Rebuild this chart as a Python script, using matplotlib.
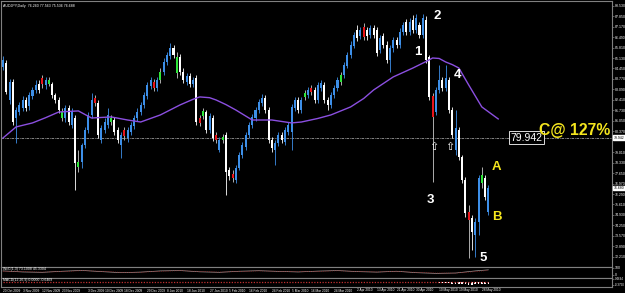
import numpy as np
import matplotlib.pyplot as plt

# AUDJPY daily candles, one entry per bar
opens = [84.55, 84.81, 82.40, 83.57, 81.23, 81.62, 81.88, 82.40, 82.01, 82.66,
         83.05, 83.44, 83.83, 83.38, 83.44, 83.44, 82.73, 82.40, 81.23, 81.23,
         81.88, 80.78, 81.23, 78.05, 78.37, 79.48, 80.45, 81.43, 82.53, 82.21,
         79.80, 80.45, 80.78, 81.23, 81.10, 80.45, 79.48, 80.45, 79.93, 80.32,
         80.71, 81.23, 81.62, 82.08, 82.66, 83.31, 83.57, 83.18, 83.70, 84.22,
         84.87, 85.26, 85.78, 84.16, 85.20, 84.22, 83.57, 83.96, 83.44, 83.83,
         81.23, 81.36, 81.62, 80.45, 81.23, 80.13, 79.15, 79.80, 80.13, 77.85,
         77.59, 77.20, 77.98, 78.83, 79.35, 80.13, 80.78, 81.23, 81.75, 82.21,
         82.53, 81.75, 79.80, 79.15, 79.61, 80.13, 79.67, 80.32, 80.32, 81.88,
         82.40, 81.75, 82.60, 82.73, 83.18, 83.05, 82.40, 83.18, 83.38, 82.40,
         82.08, 82.73, 83.18, 83.57, 84.03, 84.61, 85.33, 85.91, 86.95, 86.56,
         87.15, 86.95, 86.63, 87.08, 86.95, 85.65, 86.56, 85.98, 85.00, 85.78,
         86.30, 85.98, 86.82, 87.47, 86.82, 87.60, 86.95, 87.28, 86.63, 87.60,
         85.20, 82.66, 81.62, 83.05, 83.70, 83.18, 83.70, 81.75, 79.15, 80.45,
         78.70, 77.20, 75.12, 74.73, 73.63, 74.47, 77.01, 77.33, 75.12]
highs = [85.26, 85.00, 83.77, 83.77, 81.95, 82.27, 82.66, 82.60, 82.92, 83.25,
         83.70, 83.70, 84.03, 83.90, 83.90, 83.57, 82.86, 82.60, 81.88, 82.08,
         82.08, 81.88, 81.43, 79.15, 79.61, 80.65, 81.62, 82.86, 82.73, 82.40,
         80.78, 81.23, 81.88, 81.43, 81.30, 80.65, 80.32, 80.65, 80.65, 80.97,
         81.43, 81.88, 82.27, 82.92, 83.57, 83.90, 83.77, 83.90, 84.48, 85.13,
         85.52, 86.11, 85.98, 85.52, 85.39, 84.48, 84.16, 84.16, 83.90, 84.03,
         81.43, 81.88, 81.75, 81.56, 81.43, 80.32, 80.00, 80.19, 80.32, 78.05,
         77.85, 78.18, 79.02, 79.67, 80.32, 80.97, 81.49, 81.95, 82.47, 82.79,
         82.73, 81.95, 80.00, 79.80, 80.32, 80.32, 80.65, 80.97, 82.14, 82.60,
         82.60, 82.60, 83.05, 83.25, 83.38, 83.25, 83.57, 83.70, 83.57, 82.60,
         82.92, 83.38, 83.90, 84.22, 84.87, 85.52, 86.24, 86.82, 87.28, 87.15,
         87.41, 87.15, 87.28, 87.28, 87.15, 86.63, 86.76, 86.24, 85.98, 86.50,
         86.50, 87.08, 87.47, 87.67, 87.73, 87.93, 87.99, 87.47, 87.99, 87.86,
         85.33, 82.86, 83.25, 84.68, 83.90, 84.68, 83.90, 81.95, 81.75, 80.65,
         78.83, 77.40, 75.58, 74.93, 74.73, 77.53, 78.05, 77.53, 76.88]
lows = [84.35, 82.79, 82.14, 80.78, 79.61, 81.43, 81.69, 81.69, 81.75, 82.47,
        82.86, 82.86, 83.18, 83.12, 83.31, 82.53, 82.21, 81.56, 81.04, 80.97,
        80.78, 80.58, 76.55, 77.72, 77.98, 79.28, 80.26, 81.23, 82.01, 79.93,
        79.61, 80.26, 80.58, 80.78, 80.13, 79.61, 78.63, 79.80, 79.67, 80.13,
        80.52, 81.04, 81.43, 81.88, 82.47, 83.12, 82.99, 82.99, 83.51, 84.03,
        84.68, 85.07, 85.13, 83.83, 84.03, 83.51, 83.38, 83.25, 83.25, 80.78,
        80.71, 81.17, 80.26, 80.26, 79.74, 79.61, 79.02, 79.61, 76.23, 77.20,
        77.07, 77.01, 77.85, 78.63, 79.15, 79.93, 80.58, 81.04, 81.56, 82.01,
        81.56, 79.61, 79.02, 78.18, 79.41, 79.61, 79.48, 80.13, 79.15, 81.69,
        81.56, 81.56, 82.40, 82.53, 82.73, 82.21, 82.21, 82.99, 82.21, 81.75,
        81.88, 82.53, 82.99, 83.38, 83.83, 84.48, 85.13, 85.78, 86.24, 86.37,
        86.30, 86.30, 86.43, 86.43, 85.26, 85.46, 85.78, 84.81, 84.22, 85.52,
        85.78, 85.78, 86.63, 86.63, 86.63, 86.76, 86.76, 86.43, 86.43, 84.81,
        82.40, 77.07, 81.43, 82.86, 82.99, 82.99, 81.56, 79.93, 78.83, 78.50,
        77.01, 74.80, 72.13, 72.65, 72.20, 73.63, 76.68, 75.90, 74.93]
closes = [85.00, 82.92, 83.57, 80.97, 81.75, 82.08, 82.40, 81.88, 82.73, 83.05,
          83.38, 83.05, 83.44, 83.70, 83.70, 82.73, 82.40, 81.75, 81.62, 81.88,
          80.97, 81.62, 78.31, 78.37, 79.48, 80.45, 81.43, 82.40, 82.21, 80.13,
          80.58, 80.97, 81.43, 80.97, 80.32, 79.80, 80.13, 80.06, 80.45, 80.78,
          81.23, 81.62, 82.08, 82.73, 83.38, 83.70, 83.18, 83.70, 84.22, 84.87,
          85.33, 85.78, 85.33, 85.20, 84.22, 83.70, 83.96, 83.44, 83.70, 80.97,
          80.91, 81.69, 80.45, 81.36, 79.93, 79.80, 79.80, 80.00, 77.72, 77.46,
          77.33, 77.98, 78.83, 79.48, 80.13, 80.78, 81.30, 81.75, 82.27, 82.53,
          81.75, 79.80, 79.28, 79.61, 80.13, 79.80, 80.45, 80.78, 81.95, 82.40,
          81.75, 82.40, 82.86, 83.05, 82.92, 82.40, 83.38, 83.51, 82.40, 82.08,
          82.73, 83.18, 83.70, 84.03, 84.68, 85.33, 85.98, 86.63, 86.43, 86.95,
          86.50, 86.56, 87.08, 86.63, 85.46, 86.43, 85.98, 85.00, 85.78, 86.30,
          85.98, 86.82, 87.28, 86.82, 87.47, 86.95, 87.73, 86.63, 87.73, 85.00,
          82.60, 81.30, 83.05, 83.70, 83.18, 83.83, 81.75, 80.13, 80.58, 78.70,
          77.20, 75.06, 74.60, 73.82, 74.47, 77.33, 77.53, 76.10, 76.68]
red_bars = [12, 28, 37, 46, 60, 65, 70, 94, 110, 131, 142]
green_bars = [14, 18, 23, 33, 48, 53, 61, 67, 92, 103, 146]

# shifted moving average (purple), read at a few bars
ma_bars = [0, 4, 9, 13, 17, 23, 27, 33, 38, 42, 48, 54, 58, 60, 63, 65, 68,
           71, 76, 82, 88, 91, 96, 100, 106, 110, 113, 119, 125, 129, 131,
           133, 135, 137, 139, 142, 146, 151]
ma_values = [79.93, 80.65, 80.91, 81.25, 81.62, 81.69, 81.23, 81.30, 81.10,
             80.97, 81.43, 82.08, 82.45, 82.60, 82.55, 82.40, 82.10, 81.75,
             81.10, 81.10, 80.91, 80.97, 81.20, 81.43, 81.95, 82.50, 83.05,
             83.90, 84.48, 84.90, 85.13, 85.10, 84.87, 84.70, 84.48, 83.38,
             81.95, 81.17]

level = 79.942
price_ticks = [88.53, 87.85, 87.17, 86.49, 85.81, 85.13, 84.45, 83.77, 83.09,
               82.41, 81.73, 81.05, 80.37, 79.01, 78.33, 77.65, 76.97,
               76.29, 75.61, 74.93, 74.25, 73.57, 72.89, 72.21]

date_ticks = [0, 6, 12, 18, 26, 31, 37, 44, 50, 56, 63, 69, 75, 82, 88, 94,
              101, 108, 114, 120, 126, 133, 139, 146]
date_labels = ['20 Oct 2009', '3 Nov 2009', '12 Nov 2009', '23 Nov 2009',
               '3 Dec 2009', '10 Dec 2009', '18 Dec 2009', '29 Dec 2009',
               '8 Jan 2010', '18 Jan 2010', '27 Jan 2010', '5 Feb 2010',
               '16 Feb 2010', '24 Feb 2010', '5 Mar 2010', '16 Mar 2010',
               '24 Mar 2010', '2 Apr 2010', '13 Apr 2010', '21 Apr 2010',
               '30 Apr 2010', '10 May 2010', '19 May 2010', '28 May 2010']

# oscillator sub window
osc_bars = [0, 6, 12, 18, 24, 30, 36, 42, 48, 54, 60, 66, 72, 78, 84, 90, 96,
            102, 108, 114, 120, 126, 132, 138, 144, 148]
osc_main = [55, 40, 35, 50, 62, 45, 30, 38, 55, 60, 42, 35, 50, 58, 48, 40,
            52, 60, 45, 38, 50, 30, 20, 25, 55, 70]
osc_signal = [50, 45, 38, 45, 58, 50, 35, 36, 50, 58, 48, 38, 46, 55, 50, 43,
              48, 57, 48, 40, 47, 35, 25, 24, 45, 62]

# histogram sub window, last bars only
hist_bars = [133, 134, 135, 136, 137, 138, 139, 140, 141, 142, 143, 144, 145,
             146, 147, 148]
hist_values = [-0.10, -0.12, -0.15, -0.18, -0.22, -0.26, -0.30, -0.33, -0.36,
               -0.37, -0.37, -0.36, -0.35, -0.33, -0.31, -0.30]

W, H = 625, 293
BLUE = '#3d8fe8'
GRID = '#808080'
TICK_FS = 2.5


def rect(x0, y0, x1, y1):
    return [x0 / W, 1 - y1 / H, (x1 - x0) / W, (y1 - y0) / H]


def style(ax, fs=TICK_FS):
    ax.set_facecolor('black')
    for s in ax.spines.values():
        s.set_color(GRID)
        s.set_linewidth(0.8)
    ax.set_xticks([])
    ax.yaxis.tick_right()
    ax.tick_params(axis='y', colors=GRID, labelcolor='white', labelsize=fs,
                   length=1.5, width=0.5, pad=0.6)


plt.rcParams['font.family'] = ['Liberation Sans', 'DejaVu Sans']
fig = plt.figure(figsize=(W / 100, H / 100), dpi=100, facecolor='black')

ax = fig.add_axes(rect(1, 1, 612, 267))
style(ax)
xlim = (-0.6, 185.7)
ax.set_xlim(*xlim)
ax.set_ylim(71.545, 88.835)

x = np.arange(len(closes))
o = np.array(opens)
c = np.array(closes)
cols = np.where(c >= o, BLUE, 'white').astype(object)
wick = cols.copy()
for i in red_bars:
    cols[i] = '#e8141a'
    wick[i] = '#c8c8c8'
for i in green_bars:
    cols[i] = '#2ee63a'
    wick[i] = '#c8c8c8'

ax.vlines(x, lows, highs, colors=list(wick), linewidth=0.6, zorder=2)
body = np.maximum(np.abs(c - o), 0.04)
ax.bar(x, body, bottom=np.minimum(o, c), width=0.62, color=list(cols),
       linewidth=0, zorder=3)

ax.plot(ma_bars, ma_values, color='#8b4fe0', linewidth=1.0, zorder=4)
ax.axhline(level, color='#9a9a9a', linewidth=0.6, linestyle=(0, (3, 1, 1, 1)),
           zorder=1)

ax.set_yticks(price_ticks)
ax.set_yticklabels([f'{v:.3f}' for v in price_ticks])

box = dict(boxstyle='square,pad=0.15', fc='black', ec='white', lw=0.6)
ax.text(159.5, level, f'{level:.3f}', color='white', fontsize=7.5,
        ha='center', va='center', bbox=box, zorder=6)
for v in [level, closes[-1]]:
    ax.text(1.003, v, f'{v:.3f}', transform=ax.get_yaxis_transform(),
            color='black', fontsize=TICK_FS, ha='left', va='center', zorder=6,
            bbox=dict(boxstyle='square,pad=0.1', fc='white', ec='white'))

# wave labels
for t, bx, py in [('2', 132.3, 87.86), ('1', 126.5, 85.52), ('4', 138.7, 84.03),
                  ('3', 130.2, 75.90), ('5', 146.3, 72.13)]:
    ax.text(bx, py, t, color='white', fontsize=9.5, fontweight='bold',
            ha='center', va='center', zorder=6)
for t, bx, py in [('A', 150.6, 78.05), ('B', 150.6, 74.80)]:
    ax.text(bx, py, t, color='#f5e61e', fontsize=9.5, fontweight='bold',
            ha='center', va='center', zorder=6)
ax.text(174.4, 80.45, 'C@ 127%', color='#f5e61e', fontsize=11.3,
        fontweight='bold', ha='center', va='center', zorder=6)
for bx in [131.4, 136.3]:
    ax.text(bx, 79.35, '\u21e7', color='white', fontsize=8,
            family='DejaVu Sans', ha='center', va='center', zorder=6)

fig.text(3 / W, 1 - 6 / H, 'AUDJPY,Daily  76.260 77.563 75.536 76.688',
         color='white', fontsize=2.6, va='center')

# oscillator window
ax1 = fig.add_axes(rect(1, 267, 612, 278))
style(ax1)
ax1.set_xlim(*xlim)
ax1.set_ylim(-45, 110)
ax1.plot(osc_bars, osc_main, color='#a0a0a0', linewidth=0.5)
ax1.plot(osc_bars, osc_signal, color='#b01818', linewidth=0.5, linestyle=':')
ax1.set_yticks([100, 0])
ax1.set_yticklabels(['100', '0'])
ax1.text(0.004, 0.78, 'WcC(1,3) 73.1008 45.3304', transform=ax1.transAxes,
         color='white', fontsize=2.5, va='center')

# histogram window
ax2 = fig.add_axes(rect(1, 278, 612, 287))
style(ax2, fs=2.1)
ax2.set_xlim(*xlim)
ax2.set_ylim(-0.75, 0.62)
ax2.plot([x[0], x[-1]], [0, 0], color='#c03030', linewidth=0.9,
         linestyle=(0, (1, 1.2)))
ax2.bar(hist_bars, hist_values, width=0.5, color='white', linewidth=0)
ax2.set_yticks([0.4694, -0.375])
ax2.set_yticklabels(['0.4694', '-0.3750'])
ax2.text(0.004, 0.8, 'MACD(12,26,9) 0.0000 -0.6469', transform=ax2.transAxes,
         color='white', fontsize=2.5, va='center')

# date axis
for bi, lab in zip(date_ticks, date_labels):
    xf = (1 + (bi - xlim[0]) / (xlim[1] - xlim[0]) * 611) / W
    fig.text(xf, 1 - 290.5 / H, lab, color='white', fontsize=2.3,
             ha='left', va='center')

fig.savefig('out.png', dpi=100, facecolor='black')
